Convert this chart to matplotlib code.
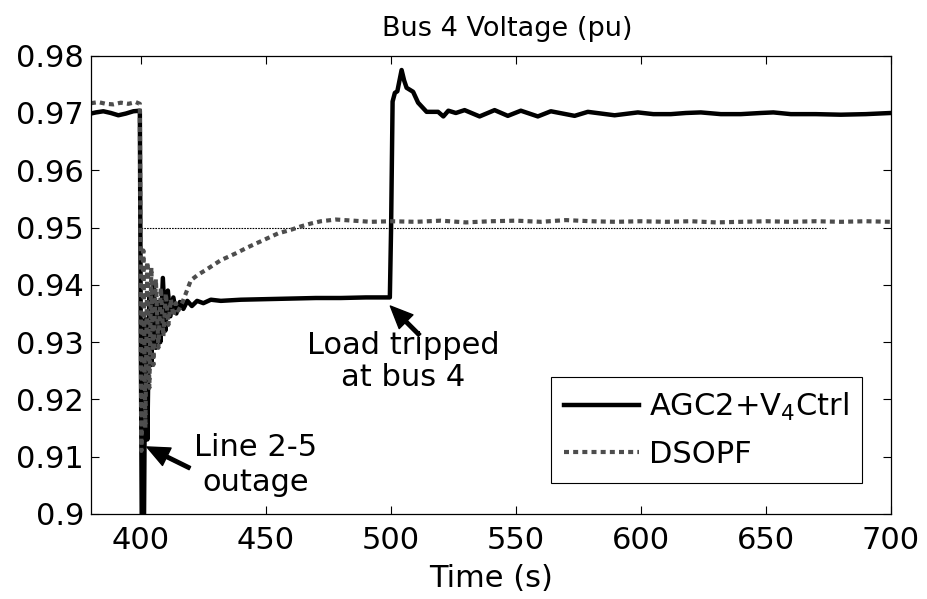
import numpy as np
import matplotlib
matplotlib.use("Agg")
import matplotlib.pyplot as plt

plt.rcParams['font.family'] = ['DejaVu Sans']
plt.rcParams['mathtext.fontset'] = 'dejavusans'

# AGC2+V4Ctrl (solid)
t_agc = [380, 382, 385, 388, 391, 394, 397, 399.6, 400.0, 400.4, 401.2, 401.8,
         402.6, 403.4, 404.2, 405.2, 406.0, 407.0, 407.8, 408.8, 409.8, 410.8,
         411.8, 413.0, 414.2, 415.6, 417.0, 418.6, 420.4, 422.5, 425, 428, 432,
         440, 450, 460, 470, 480, 490, 499.6, 500.1, 500.7, 501.6, 502.6, 504.3,
         505.3, 506.3, 508.9, 510.9, 514.3, 518.9, 521, 523, 526, 529.5, 535.5,
         541.5, 546.8, 552, 558.8, 564, 573.5, 578.8, 589.5, 598.8, 605, 612,
         618, 624, 632, 640, 648, 653, 660, 670, 680, 690, 700]
v_agc = [0.9699, 0.9701, 0.9703, 0.9700, 0.9696, 0.9699, 0.9703, 0.9704, 0.9300,
         0.8950, 0.8950, 0.9340, 0.9130, 0.9380, 0.9260, 0.9400, 0.9290, 0.9370,
         0.9300, 0.9412, 0.9320, 0.9390, 0.9345, 0.9378, 0.9350, 0.9370, 0.9358,
         0.9372, 0.9363, 0.9372, 0.9368, 0.9374, 0.9372, 0.9374, 0.9375, 0.9376,
         0.9377, 0.9377, 0.9378, 0.9378, 0.9500, 0.9720, 0.9735, 0.9738, 0.9775,
         0.9757, 0.9744, 0.9737, 0.9718, 0.9702, 0.9702, 0.9694, 0.9704, 0.9700,
         0.9705, 0.9694, 0.9705, 0.9695, 0.9704, 0.9694, 0.9703, 0.9695, 0.9702,
         0.9696, 0.9701, 0.9698, 0.9698, 0.9700, 0.9701, 0.9698, 0.9698, 0.9700,
         0.9701, 0.9698, 0.9698, 0.9697, 0.9698, 0.9700]

# DSOPF (dotted)
t_dsopf = [380, 383, 386, 389, 392, 395, 398, 399.6, 400.2, 401.0, 401.8, 402.6,
           403.4, 404.2, 405.0, 406.0, 407.0, 408.0, 409.0, 410.0, 411.0, 412.0,
           413.0, 414.0, 415.0, 416.5, 418.0, 420.0, 423, 426, 432, 438, 443, 449,
           455, 460, 464, 468, 472, 478, 485, 492, 500, 510, 520, 530, 540, 550,
           560, 570, 580, 590, 600, 610, 620, 630, 640, 650, 660, 670, 680, 690, 700]
v_dsopf = [0.9717, 0.9719, 0.9716, 0.9715, 0.9718, 0.9716, 0.9719, 0.9716, 0.9110,
           0.9460, 0.9150, 0.9440, 0.9220, 0.9430, 0.9260, 0.9410, 0.9290, 0.9395,
           0.9310, 0.9385, 0.9330, 0.9375, 0.9345, 0.9368, 0.9355, 0.9368, 0.9385,
           0.9408, 0.9418, 0.9426, 0.9443, 0.9455, 0.9466, 0.9478, 0.9490, 0.9496,
           0.9502, 0.9507, 0.9511, 0.9514, 0.9512, 0.9510, 0.9511, 0.9510, 0.9512,
           0.9509, 0.9511, 0.9512, 0.9510, 0.9513, 0.9511, 0.9510, 0.9511, 0.9510,
           0.9511, 0.9509, 0.9510, 0.9511, 0.9510, 0.9511, 0.9510, 0.9511, 0.9510]

# reference level
t_ref = [400, 674]
v_ref = [0.95, 0.95]

xticks = [400, 450, 500, 550, 600, 650, 700]
yticks = [0.9, 0.91, 0.92, 0.93, 0.94, 0.95, 0.96, 0.97, 0.98]
ytick_labels = ['0.9', '0.91', '0.92', '0.93', '0.94', '0.95', '0.96', '0.97', '0.98']

fig = plt.figure(figsize=(9.27, 5.99), dpi=100)
ax = fig.add_axes([0.098, 0.142, 0.863, 0.765])

ax.plot(t_ref, v_ref, color='k', lw=0.8, ls=(0, (1.5, 1)))
ax.plot(t_agc, v_agc, color='k', lw=3.2, label='AGC2+V$_4$Ctrl', solid_joinstyle='round')
ax.plot(t_dsopf, v_dsopf, color='0.3', lw=3, ls=(0, (1.2, 1.0)), label='DSOPF')

ax.set_xlim(380, 700)
ax.set_ylim(0.9, 0.98)
ax.set_xticks(xticks)
ax.set_yticks(yticks)
ax.set_yticklabels(ytick_labels)
ax.tick_params(direction='in', length=6, width=0.8, top=True, right=True,
               labelsize=22, pad=5)
ax.tick_params(axis='x', pad=9)
for s in ax.spines.values():
    s.set_linewidth(0.9)

ax.set_title('Bus 4 Voltage (pu)', fontsize=19.5, pad=14, x=0.52)
ax.set_xlabel('Time (s)', fontsize=22, labelpad=6)

# annotations
ax.text(505, 0.9266, 'Load tripped\nat bus 4', fontsize=22, ha='center', va='center',
        linespacing=1.1)
ax.annotate('', xy=(499.8, 0.9363), xytext=(511.5, 0.9312),
            arrowprops=dict(facecolor='black', edgecolor='black', width=2.5,
                            headwidth=14, headlength=16, shrink=0))
ax.text(446, 0.9085, 'Line 2-5\noutage', fontsize=22, ha='center', va='center',
        linespacing=1.25)
ax.annotate('', xy=(402.4, 0.9117), xytext=(419.6, 0.9080),
            arrowprops=dict(facecolor='black', edgecolor='black', width=2.5,
                            headwidth=14, headlength=16, shrink=0))

leg = ax.legend(loc='lower right', bbox_to_anchor=(0.964, 0.068), fontsize=22,
                handlelength=2.45, fancybox=False, framealpha=1, edgecolor='k',
                borderpad=0.45, labelspacing=0.55, handletextpad=0.3,
                borderaxespad=0)
leg.get_frame().set_linewidth(0.8)

fig.savefig('out.png', dpi=100)
